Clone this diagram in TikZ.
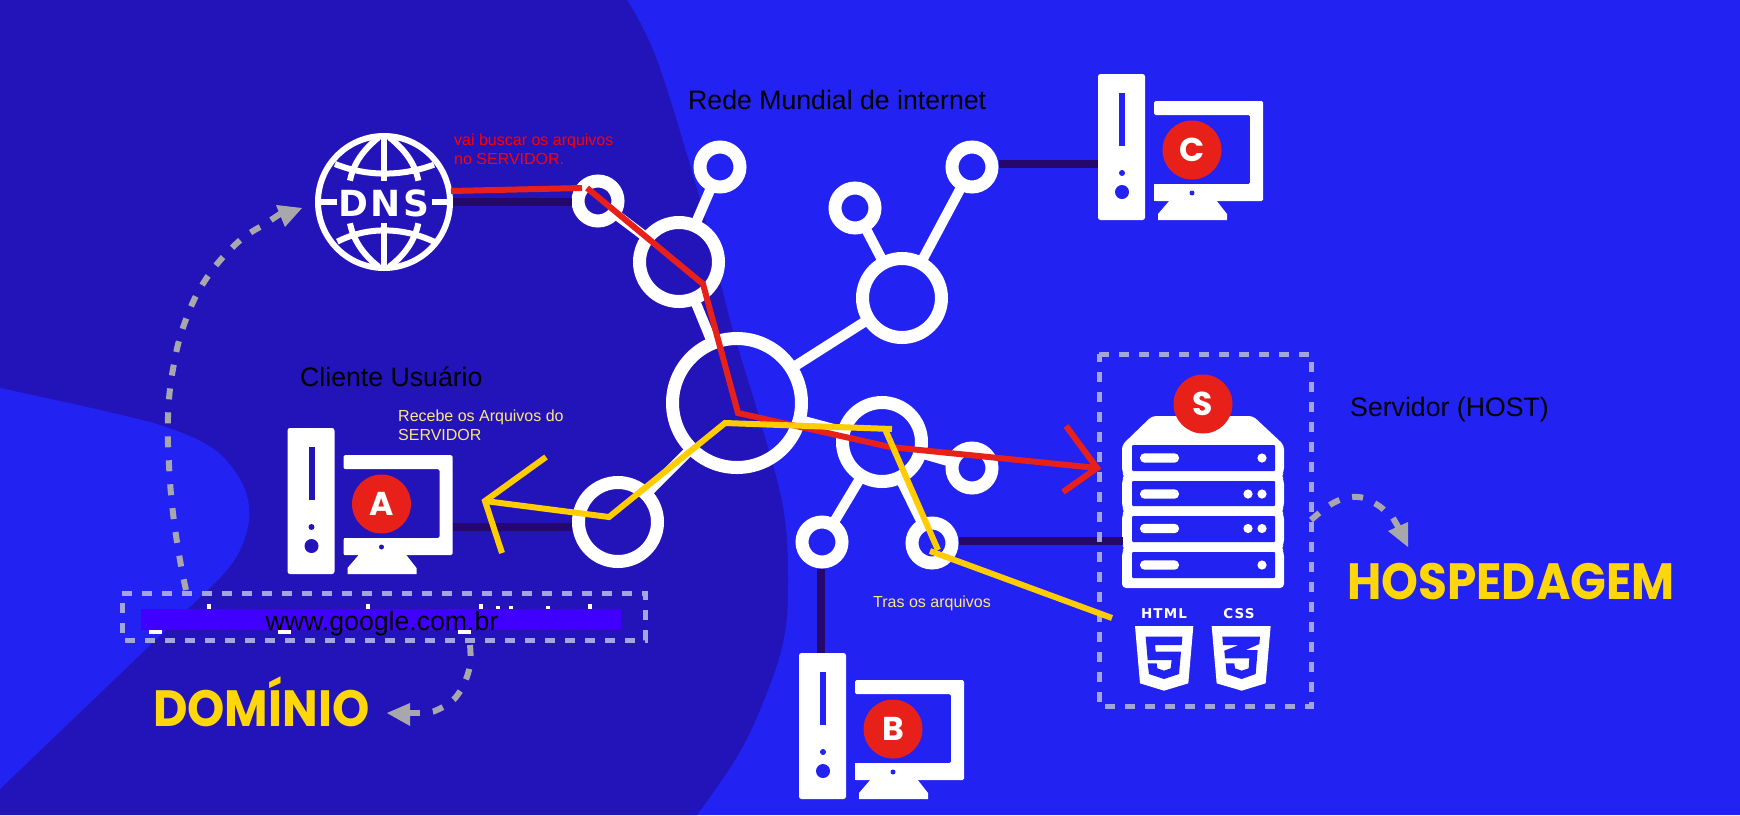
\documentclass[tikz,border=0pt]{standalone}
\usepackage{fontspec}
\setmainfont{Liberation Sans}
\newfontfamily\popp{Poppins}
\newfontfamily\djb{DejaVu Sans}[LetterSpace=8]
\usetikzlibrary{calc}
\definecolor{bright}{HTML}{2222F3}
\definecolor{deep}{HTML}{2214B8}
\definecolor{linkc}{HTML}{24086B}
\definecolor{redc}{HTML}{E8201A}
\definecolor{yelc}{HTML}{FFCC00}
\definecolor{gold}{HTML}{FFD60A}
\definecolor{paley}{HTML}{FFE680}
\definecolor{dashc}{HTML}{A3A6DC}
\definecolor{greyc}{HTML}{A8A8AC}
\definecolor{barc}{HTML}{4000FF}
\tikzset{
  x=1pt,y=-1pt,
  netbig/.style={circle,draw=white,line width=13pt,inner sep=0,minimum size=129pt},
  netmid/.style={circle,draw=white,line width=13pt,inner sep=0,minimum size=79pt},
  netsmall/.style={circle,draw=white,line width=13pt,inner sep=0,minimum size=40pt},
  netedge/.style={draw=white,line width=10pt,shorten >=-2pt,shorten <=-2pt},
  darklink/.style={draw=linkc,line width=8pt},
  redline/.style={draw=redc,line width=6pt},
  yelline/.style={draw=yelc,line width=6pt},
  dashbox/.style={draw=dashc,line width=5pt,dash pattern=on 10pt off 10pt},
  greyarc/.style={draw=greyc,line width=6pt,dash pattern=on 11pt off 13pt},
  greystub/.style={draw=greyc,line width=6pt},
  greytip/.style={fill=greyc,draw=none},
  bigtxt/.style={text=black,anchor=base west,inner sep=0,font=\fontsize{26.67}{30}\selectfont},
  smalltxt/.style={anchor=north west,inner sep=0,align=left,font=\fontsize{16}{19}\selectfont},
  brand/.style={text=gold,inner sep=0,anchor=base west,font=\popp\bfseries\fontsize{51}{51}\selectfont},
  badge/.style={circle,fill=redc,inner sep=0,minimum size=59pt,text=white,font=\popp\bfseries\fontsize{33}{33}\selectfont},
  computer/.pic={
    \fill[white,even odd rule,rounded corners=2.5pt] (0,0) rectangle (47,146);
    \fill[bg] (21,19) rectangle (27,72);
    \fill[bg] (24,99) circle[radius=3];
    \fill[bg] (24,118) circle[radius=7];
    \fill[white] (72,126) -- (118,126) -- (129,140) -- (129,146) -- (60,146) -- (60,140) -- cycle;
    \fill[white,rounded corners=1.5pt] (56,27) -- (165,27) -- (165,127) -- (56,127) -- (56,110) -- (152,110) -- (152,41) -- (56,41) -- cycle;
    \fill[white] (56,110) rectangle (57,127);
    \fill[bg] (94,119) circle[radius=2.5];
    \coordinate (-mon) at (165,99);
    \coordinate (-top) at (22,0);
    \coordinate (-left) at (0,90);
    \node[badge] (-badge) at (94,76) {#1};
  },
  bg/.style={fill=deep},
}
\begin{document}
\begin{tikzpicture}
\useasboundingbox (0,0) rectangle (1740,815);
\fill[bright] (0,0) rectangle (1740,815);
% background shapes
\fill[deep] (0,0) -- plot[smooth,tension=0.6] coordinates {(627,0) (657,60) (700,200) (730,320) (760,420) (783,507) (788,580) (783,643) (760,710) (735,760) (697,815)} -- (0,815) -- cycle;
\fill[bright] (0,388) -- plot[smooth,tension=0.6] coordinates {(0,388) (100,410) (166,427) (215,450) (243,485) (249,520) (237,556) (215,583)} -- (0,789) -- cycle;

% network nodes
\node[netbig] (hub) at (737,403) {};
\node[netmid] (midTL) at (679,262) {};
\node[netmid] (midUR) at (902,298) {};
\node[netmid] (midLR) at (882,442) {};
\node[netmid] (midL) at (618,522) {};
\node[netsmall] (dnsN) at (598,201) {};
\node[netsmall] (topN) at (720,167) {};
\node[netsmall] (urA) at (855,208) {};
\node[netsmall] (urB) at (972,167) {};
\node[netsmall] (lrA) at (972,468) {};
\node[netsmall] (lrB) at (822,542) {};
\node[netsmall] (lrC) at (932,543) {};
\foreach \a/\b in {hub/midTL,hub/midUR,hub/midLR,hub/midL,midTL/dnsN,midTL/topN,midUR/urA,midUR/urB,midLR/lrA,midLR/lrB,midLR/lrC}
  \draw[netedge] (\a) -- (\b);

% DNS globe
\node[circle,draw=white,line width=6pt,inner sep=0,minimum size=132pt] (dns) at (384,202) {};
\begin{scope}[shift={(280,60)},x=0.3333pt,y=-0.3333pt,white,line width=6pt]
  \draw (312,220) -- (312,362);
  \draw (312,490) -- (312,630);
  \draw (105,425) -- (170,425);
  \draw (455,425) -- (518,425);
  \draw (165,312) .. controls (260,350) and (365,350) .. (462,314);
  \draw (172,545) .. controls (260,500) and (365,500) .. (462,545);
  \draw (296,232) .. controls (250,270) and (220,310) .. (210,362);
  \draw (328,232) .. controls (375,270) and (405,310) .. (415,362);
  \draw (210,490) .. controls (220,540) and (250,585) .. (296,620);
  \draw (415,490) .. controls (405,540) and (375,585) .. (328,620);
\end{scope}
\node[text=white,inner sep=0,font=\djb\bfseries\fontsize{36}{36}\selectfont] (dnstxt) at (384,203) {DNS};

% computers
\pic (compA) at (287.5,428) {computer=A};
\tikzset{bg/.style={fill=bright}}
\pic (compB) at (799,653) {computer=B};
\pic (compC) at (1098,74) {computer=C};

% dark connectors
\draw[darklink] (dnsN.west |- dns.east) -- (dns.east);
\draw[darklink] (compA-mon) -- (compA-mon -| midL.west);
\draw[darklink] (compB-top) -- (compB-top |- lrB.south);
\draw[darklink] (compC-left) -- (compC-left -| urB.east);

% server
\fill[white,rounded corners=4pt] (1152,416) -- (1253,416) -- (1284,445) -- (1284,472) -- (1281,476) -- (1284,480) -- (1284,507) -- (1281,511) -- (1284,515) -- (1284,544) -- (1281,548) -- (1284,552) -- (1284,588) -- (1122,588) -- (1122,552) -- (1125,548) -- (1122,544) -- (1122,515) -- (1125,511) -- (1122,507) -- (1122,480) -- (1125,476) -- (1122,472) -- (1122,445) -- cycle;
\foreach \t/\b in {445/471,481/506,516/542,552/578}
  \fill[bright,rounded corners=1pt] (1132,\t) rectangle (1275,\b);
\foreach \y in {458,494,528.5,565}{
  \fill[white,rounded corners=4.5pt] (1140,\y-4.7) rectangle (1179,\y+4.7);
  \fill[white] (1262,\y) circle[radius=4.6];
}
\foreach \y in {494,528.5} \fill[white] (1248,\y) circle[radius=4.6];
\node[badge] (serverS) at (1203,404) {S};
\coordinate (srvLink) at (1123,541);
\draw[darklink] (srvLink) -- (srvLink -| lrC.east);

% HTML / CSS shields
\node[text=white,inner sep=0,font=\djb\bfseries\fontsize{13.5}{14}\selectfont] (htmlT) at (1164,614) {HTML};
\node[text=white,inner sep=0,font=\djb\bfseries\fontsize{13.5}{14}\selectfont] (cssT) at (1239,614) {CSS};
\begin{scope}[shift={(1125,600)},x=0.3333pt,y=-0.3333pt]
  \fill[white] (30,78) -- (205,78) -- (190,250) -- (117,272) -- (45,250) -- cycle;
  \fill[bright] (62,110) -- (172,110) -- (170,135) -- (90,135) -- (92,155) -- (168,155) -- (162,222) -- (117,237) -- (72,222) -- (68,190) -- (95,190) -- (97,205) -- (117,212) -- (137,205) -- (140,180) -- (68,180) -- cycle;
  \fill[white] (260,78) -- (437,78) -- (422,250) -- (350,272) -- (275,250) -- cycle;
  \fill[bright] (292,110) -- (405,110) -- (403,132) -- (362,150) -- (398,150) -- (392,222) -- (350,237) -- (305,222) -- (302,190) -- (328,190) -- (330,205) -- (350,212) -- (371,205) -- (373,175) -- (300,175) -- (298,152) -- (342,135) -- (294,135) -- cycle;
\end{scope}

% domain box: remains of the covered text, cover bar, url
\foreach \x/\y/\w/\h in {209/604/2/5,368/604/2/5,481/604/2/5,498/606/2/3,511/606/2/3,548/606/2/3,590/604/2/5,155/630/6.5/4,284/630/6.5/4,464/630/6.5/4}
  \fill[white] (\x-\w,\y) rectangle (\x+\w,\y+\h);
\node[fill=barc,inner sep=0,minimum width=480pt,minimum height=21pt] (bar) at (381,619.5) {};
\node[text=black,inner sep=0,font=\fontsize{26.67}{30}\selectfont,anchor=base] (url) at (382,630) {www.google.com.br};
\coordinate (boxTL) at (122,593);
\coordinate (boxBR) at (645,640);
\draw[dashbox] (boxTL) -- (boxTL -| boxBR) -- (boxBR) -- (boxBR -| boxTL) -- cycle;

% server dashed box
\coordinate (srvTL) at (1099,354);
\coordinate (srvBR) at (1311,706);
\draw[dashbox] (srvTL) -- (srvTL -| srvBR) -- (srvBR) -- (srvBR -| srvTL) -- cycle;

% grey dashed arrows
\draw[greyarc] plot[smooth,tension=0.7] coordinates {(186,590) (180,560) (173,513) (169,465) (168,417) (173,369) (185,322) (206,279) (237,243) (262,226)};
\draw[greystub] (271,220) -- (283,212);
\fill[greytip] (302,208) -- (276,205) -- (285,227) -- cycle;
\draw[greyarc] plot[smooth,tension=0.7] coordinates {(470,645) (469,670) (456,697) (437,710) (428,712)};
\draw[greystub] (420,713) -- (408,713);
\fill[greytip] (387,713) -- (410,703) -- (410,726) -- cycle;
\draw[greyarc] plot[smooth,tension=0.7] coordinates {(1311,520) (1335,502) (1358,497) (1376,504) (1386,512)};
\draw[greystub] (1393,518) -- (1400,530);
\fill[greytip] (1408,547) -- (1388,531) -- (1408,522) -- cycle;

% red route
\coordinate (r1) at (451,191);
\coordinate (r2) at (582,188);
\coordinate (r3) at (587,188);
\coordinate (r4) at (703,284);
\coordinate (r5) at (738,413);
\coordinate (r6) at (890,447);
\coordinate (r7) at (1097,468);
\coordinate (r8) at (1066,426);
\coordinate (r9) at (1063,492);
\draw[redline] (r1) -- (r2);
\draw[redline] (r3) -- (r4) -- (r5) -- (r6) -- (r7);
\draw[redline] (r8) -- (r7) -- (r9);

% yellow route
\coordinate (y1) at (546,457);
\coordinate (y2) at (485,501);
\coordinate (y3) at (502,553);
\coordinate (y4) at (609,517);
\coordinate (y5) at (725,423);
\coordinate (y6) at (892,429);
\coordinate (y7) at (885,429);
\coordinate (y8) at (938,550);
\coordinate (y9) at (930,551);
\coordinate (y10) at (1112,618);
\draw[yelline] (y1) -- (y2) -- (y3);
\draw[yelline] (y2) -- (y4) -- (y5) -- (y6);
\draw[yelline] (y7) -- (y8);
\draw[yelline] (y9) -- (y10);

% labels
\node[bigtxt] (rede) at (688,109) {Rede Mundial de internet};
\node[bigtxt] (cliente) at (300,386) {Cliente Usuário};
\node[bigtxt] (servidor) at (1350,416) {Servidor (HOST)};
\node[smalltxt,text=red] (buscar) at (454,134) {vai buscar os arquivos\\no SERVIDOR.};
\node[smalltxt,text=paley] (recebe) at (398,410) {Recebe os Arquivos do\\SERVIDOR};
\node[smalltxt,text=paley] (tras) at (873,596) {Tras os arquivos};
\node[brand] (hosp) at (1347,599) {\scalebox{0.92}[1]{HOSPEDAGEM}};
\node[brand] (domi) at (153,726) {\scalebox{0.93}[1]{DOMÍNIO}};
\end{tikzpicture}
\end{document}
